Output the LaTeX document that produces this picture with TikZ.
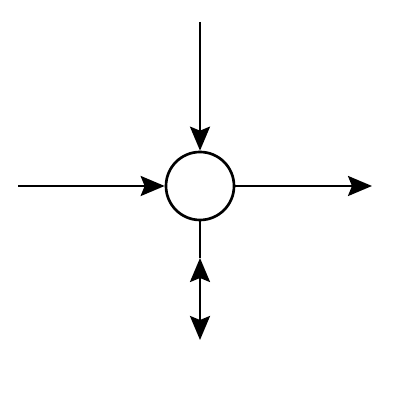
\documentclass[tikz,border=0pt]{standalone}
\usepackage{tikz}
\usetikzlibrary{arrows.meta,positioning}

\begin{document}
\begin{tikzpicture}
	[ hub/.style={circle,draw,line width=1.9pt,minimum size=1.7cm,inner sep=0pt},
		arrowOut/.style={-{Stealth[length=0.6cm,width=0.5cm,inset=0.1cm]},line width=1.9pt},
		arrowBoth/.style={{Stealth[length=0.6cm,width=0.5cm,inset=0.1cm]}-{Stealth[length=0.6cm,width=0.5cm,inset=0.1cm]},line width=1.9pt},
		plain/.style={line width=1.9pt}]

	\useasboundingbox (0,0) rectangle (10,10);

	\node[hub] (hub) at (5,5.35) {};
	\coordinate (top) at (5,9.45);
	\coordinate (left) at (0.45,5.35);
	\coordinate (right) at (9.3,5.35);
	\coordinate (middle) at (5,3.55);
	\coordinate (bottom) at (5,1.5);

	\draw[arrowOut] (top) -- (hub);
	\draw[arrowOut] (left) -- (hub);
	\draw[arrowOut] (hub) -- (right);
	\draw[plain] (hub) -- (middle);
	\draw[arrowBoth] (middle) -- (bottom);
\end{tikzpicture}
\end{document}
